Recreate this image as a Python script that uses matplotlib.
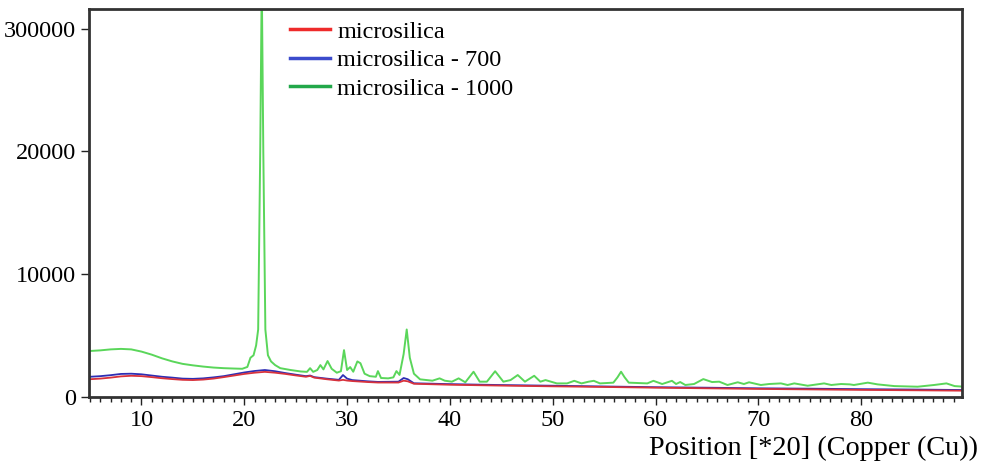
import matplotlib
matplotlib.use("Agg")
import matplotlib.pyplot as plt
from matplotlib.lines import Line2D
from matplotlib.ticker import MultipleLocator

plt.rcParams["font.family"] = ["Liberation Serif", "DejaVu Serif"]

# 2theta positions and intensities
x_green = [5.0, 6.0, 7.0, 8.0, 9.0, 10.0, 11.0, 12.0, 13.0, 14.0, 15.0, 16.0,
           17.0, 18.0, 19.0, 19.8, 20.3, 20.6, 20.9, 21.15, 21.35, 21.55, 21.7,
           21.85, 22.05, 22.3, 22.6, 23.0, 23.5, 24.5, 25.5, 26.1, 26.4, 26.7,
           27.1, 27.4, 27.7, 28.1, 28.5, 29.0, 29.4, 29.7, 30.0, 30.3, 30.6,
           31.0, 31.3, 31.7, 32.2, 32.8, 33.0, 33.3, 34.0, 34.5, 34.8, 35.1,
           35.5, 35.8, 36.1, 36.5, 37.1, 38.3, 39.0, 39.5, 40.2, 40.85, 41.5,
           42.3, 42.9, 43.6, 44.4, 45.2, 45.9, 46.6, 47.3, 48.2, 48.8, 49.3,
           50.4, 51.4, 52.1, 52.8, 53.5, 54.0, 54.6, 55.9, 56.3, 56.65, 57.0,
           57.4, 59.2, 59.8, 60.65, 61.6, 62.0, 62.4, 62.9, 63.75, 64.65, 65.5,
           66.2, 67.0, 68.0, 68.6, 69.1, 70.25, 71.05, 72.2, 72.85, 73.5, 74.8,
           76.4, 77.1, 78.05, 78.9, 79.3, 80.65, 81.6, 83.25, 85.5, 87.1, 88.3,
           89.1, 90.0]
y_green = [3750, 3800, 3880, 3920, 3880, 3700, 3450, 3150, 2900, 2700, 2580, 2480,
           2400, 2350, 2320, 2300, 2450, 3200, 3400, 4200, 5500, 20000, 34000,
           20000, 5500, 3400, 2900, 2600, 2350, 2200, 2080, 2050, 2350, 2050,
           2200, 2600, 2250, 2930, 2300, 1980, 2100, 3820, 2200, 2440, 2060,
           2900, 2750, 1900, 1700, 1650, 2110, 1550, 1520, 1600, 2110, 1800,
           3500, 5500, 3200, 1900, 1440, 1330, 1520, 1330, 1250, 1520, 1200,
           2060, 1250, 1250, 2100, 1250, 1380, 1790, 1250, 1730, 1250, 1380,
           1110, 1110, 1320, 1110, 1250, 1320, 1110, 1170, 1600, 2060, 1600,
           1170, 1110, 1320, 1060, 1320, 1060, 1220, 980, 1060, 1460, 1220,
           1250, 980, 1200, 1060, 1200, 980, 1060, 1110, 980, 1110, 920,
           1110, 980, 1060, 1030, 980, 1170, 1030, 890, 840, 980, 1110,
           890, 840]

x_amorph = [5, 6, 7, 8, 9, 10, 11, 12, 13, 14, 15, 16, 17, 18, 19, 20, 21, 22,
            23, 24, 25, 26, 26.4, 26.8, 28, 29.2, 29.6, 30.0, 30.5, 32, 33, 35,
            35.5, 35.9, 36.5, 40, 45, 50, 55, 60, 65, 70, 75, 80, 85, 90]
y_blue = [1650, 1700, 1780, 1880, 1900, 1850, 1750, 1650, 1580, 1500, 1480, 1520,
          1600, 1700, 1850, 2000, 2120, 2200, 2100, 1950, 1820, 1700, 1750, 1620,
          1500, 1400, 1790, 1500, 1380, 1280, 1230, 1250, 1550, 1450, 1120, 1050,
          975, 920, 860, 800, 760, 710, 680, 640, 610, 570]
y_red = [1450, 1500, 1580, 1680, 1730, 1700, 1620, 1530, 1460, 1400, 1380, 1420,
         1500, 1620, 1750, 1880, 1980, 2050, 1980, 1880, 1760, 1650, 1720, 1580,
         1450, 1340, 1400, 1340, 1300, 1220, 1180, 1180, 1330, 1280, 1080, 1000,
         930, 870, 820, 760, 710, 660, 620, 580, 550, 515]

labels = ["microsilica", "microsilica - 700", "microsilica - 1000"]
ytick_vals = [0, 10000, 20000, 30000]
ytick_text = ["0", "10000", "20000", "300000"]

fig = plt.figure(figsize=(9.84, 4.63), dpi=100)
ax = fig.add_axes([0.0905, 0.1425, 0.887, 0.838])

ax.plot(x_green, y_green, color="#5ad65a", lw=1.4)
ax.plot(x_amorph, y_blue, color="#2e2eb4", lw=1.3)
ax.plot(x_amorph, y_red, color="#d8323c", lw=1.3)

ax.set_xlim(4.9, 89.8)
ax.set_ylim(0, 31600)
ax.set_yticks(ytick_vals)
ax.set_yticklabels(ytick_text)
ax.xaxis.set_major_locator(MultipleLocator(10))
ax.xaxis.set_minor_locator(MultipleLocator(1))
ax.tick_params(axis="both", which="major", direction="out", length=6, width=1,
               labelsize=17.5, colors="#222222", labelcolor="black")
ax.tick_params(axis="x", which="minor", direction="out", length=3.5, width=1,
               colors="#222222")
for s in ax.spines.values():
    s.set_linewidth(2)
    s.set_color("#333333")

fig.text(978 / 984, 1 - 448 / 463, "Position [*20] (Copper (Cu))",
         ha="right", va="center", fontsize=20.3)

handles = [Line2D([], [], color="#ee2a2a", lw=2.5),
           Line2D([], [], color="#3b4bcc", lw=2.5),
           Line2D([], [], color="#22a84a", lw=2.5)]
ax.legend(handles, labels, loc="upper left", bbox_to_anchor=(0.2947, 0.955),
          bbox_transform=fig.transFigure, frameon=False, fontsize=17.5,
          borderpad=0, borderaxespad=0, handlelength=1.65, handletextpad=0.3,
          labelspacing=0.27)

fig.savefig("out.png", dpi=100)
